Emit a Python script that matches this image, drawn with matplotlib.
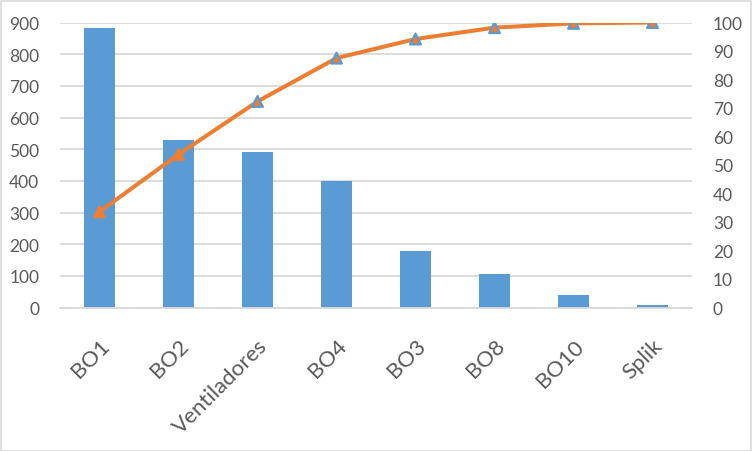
import matplotlib.pyplot as plt
import matplotlib.patches as patches
import numpy as np

categorias = ['BO1', 'BO2', 'Ventiladores', 'BO4', 'BO3', 'BO8', 'BO10', 'Splik']
valores = [882, 528, 490, 399, 177, 105, 39, 7]
acumulado = [33.6, 53.7, 72.3, 87.5, 94.2, 98.2, 99.7, 100.0]
borde_marcador = ['#ED7D31', '#ED7D31', '#5B9BD5', '#5B9BD5', '#5B9BD5', '#5B9BD5', '#5B9BD5', '#5B9BD5']

plt.rcParams['font.family'] = ['Lato', 'DejaVu Sans']

fig = plt.figure(figsize=(7.52, 4.52), dpi=100, facecolor='white')
ax = fig.add_axes([60/752, 1 - 308.5/452, 632/752, 285/452])
ax2 = ax.twinx()

x = np.arange(len(categorias))

# Barras
ax.bar(x, valores, width=0.4, color='#5B9BD5', zorder=2)
ax.set_ylim(0, 900)
ax.set_yticks(np.arange(0, 901, 100))
ax.set_xlim(-0.5, len(categorias) - 0.5)
ax.grid(axis='y', color='#D9D9D9', linewidth=1.3, zorder=0)
ax.set_axisbelow(True)

# Curva acumulada
ax2.plot(x, acumulado, color='#ED7D31', linewidth=2.9, zorder=3)
ax2.scatter(x, acumulado, marker='^', s=60, color='#ED7D31', edgecolors=borde_marcador, linewidths=1.6, zorder=4)
ax2.set_ylim(0, 100)
ax2.set_yticks(np.arange(0, 101, 10))

for a in (ax, ax2):
    for s in a.spines.values():
        s.set_visible(False)
    a.tick_params(length=0, colors='#595959', labelsize=12.5, pad=15)

ax.spines['bottom'].set_visible(True)
ax.spines['bottom'].set_color('#D9D9D9')
ax.spines['bottom'].set_linewidth(1.3)

ax.set_xticks(x)
ax.set_xticklabels(categorias, rotation=45, ha='right', rotation_mode='anchor', fontsize=16)
ax.tick_params(axis='x', pad=20)

# Borde del área del gráfico
fig.add_artist(patches.Rectangle((0.5/752, 0.5/452), 750/752, 450/452, transform=fig.transFigure,
                                 fill=False, edgecolor='#D9D9D9', linewidth=1.2))

fig.savefig('out.png', dpi=100, facecolor='white')
